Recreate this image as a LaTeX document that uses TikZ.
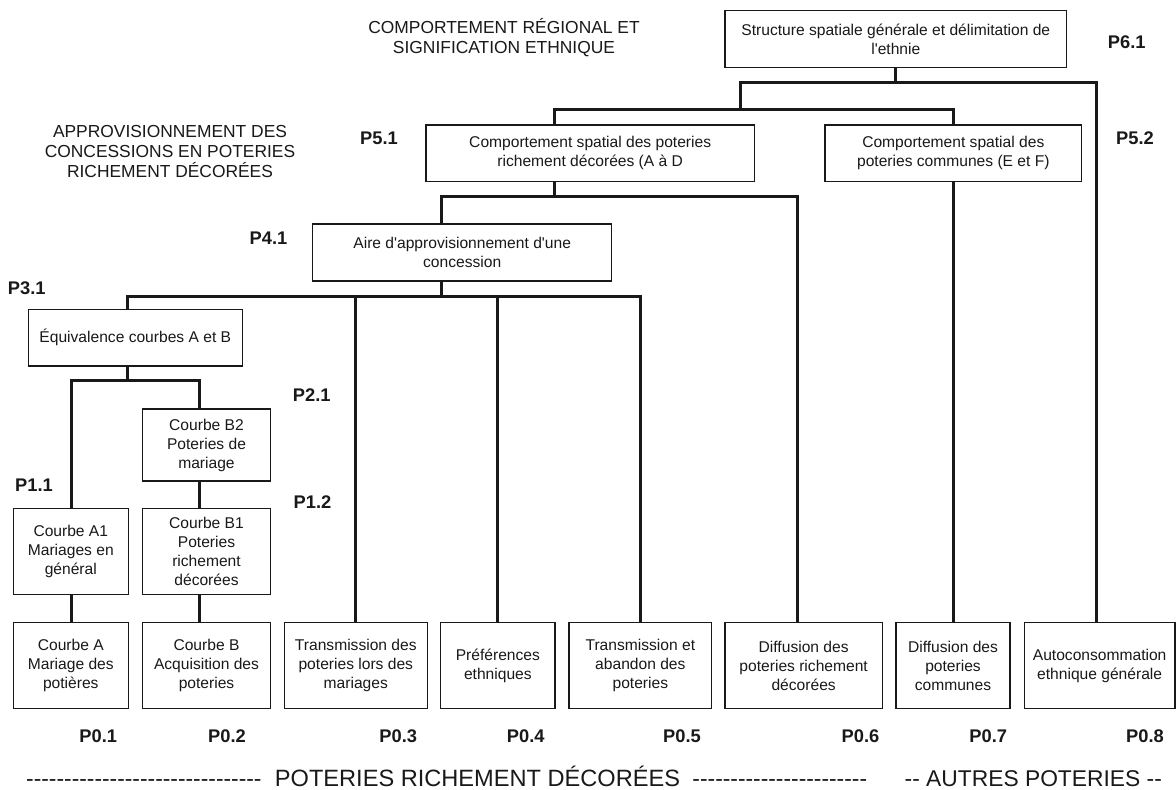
\documentclass[tikz,border=0pt]{standalone}
\usepackage{fontspec}
\newfontfamily\lsans{Liberation Sans}
\definecolor{ink}{gray}{0.1}
\newcount\hycnt
\newcommand\hyrep[1]{\hycnt=#1\relax\loop\mbox{-}\advance\hycnt by -1\relax\ifnum\hycnt>0\repeat}
\begin{document}
\begin{tikzpicture}[x=1pt,y=-1pt,
  box/.style={draw=ink, line width=1.2pt, fill=white, inner sep=0pt, align=center,
    text=ink, font=\lsans\fontsize{15.6}{19}\selectfont},
  conn/.style={draw=ink, line width=3pt, line join=miter},
  plab/.style={inner sep=0pt, text=ink, font=\lsans\fontsize{18.3}{20}\selectfont\bfseries},
  head/.style={inner sep=0pt, align=center, text=ink, font=\lsans\fontsize{17.4}{20}\selectfont},
  foot/.style={inner sep=0pt, text=ink, font=\lsans\fontsize{22.8}{26}\selectfont}]
\useasboundingbox (0,0) rectangle (1176,790);
\fill[white] (0,0) rectangle (1176,790);

% headings
\node[head] (h1) at (504,38) {COMPORTEMENT RÉGIONAL ET\\SIGNIFICATION ETHNIQUE};
\node[head] (h2) at (170,152) {APPROVISIONNEMENT DES\\CONCESSIONS EN POTERIES\\RICHEMENT DÉCORÉES};

% boxes
\node[box, minimum width=341.7pt, minimum height=57pt] (B61) at (895.8,39.2) {Structure spatiale générale et délimitation de\\l'ethnie};
\node[box, minimum width=328.3pt, minimum height=56.7pt] (B51) at (590.2,153.3) {Comportement spatial des poteries\\richement décorées (A à D};
\node[box, minimum width=256.7pt, minimum height=56.7pt] (B52) at (953.3,153.3) {Comportement spatial des\\poteries communes (E et F)};
\node[box, minimum width=299pt, minimum height=57pt] (B41) at (462.2,252.5) {Aire d'approvisionnement d'une\\concession};
\node[box, minimum width=214pt, minimum height=56.7pt] (B31) at (135.3,337.7) {Équivalence courbes A et B};
\node[box, minimum width=128.4pt, minimum height=72pt] (B21) at (206.5,445) {Courbe B2\\Poteries de\\mariage};
\node[box, minimum width=115pt, minimum height=86pt] (B11) at (70.8,551.3) {Courbe A1\\Mariages en\\général};
\node[box, minimum width=128.4pt, minimum height=86pt] (B12) at (206.5,551.3) {Courbe B1\\Poteries\\richement\\décorées};

\node[box, minimum width=115pt, minimum height=85.6pt] (B01) at (70.8,665.5) {Courbe A\\Mariage des\\potières};
\node[box, minimum width=128.4pt, minimum height=85.6pt] (B02) at (206.5,665.5) {Courbe B\\Acquisition des\\poteries};
\node[box, minimum width=143pt, minimum height=85.6pt] (B03) at (355.8,665.5) {Transmission des\\poteries lors des\\mariages};
\node[box, minimum width=114.3pt, minimum height=85.6pt] (B04) at (497.85,665.5) {Préférences\\ethniques};
\node[box, minimum width=142.7pt, minimum height=85.6pt] (B05) at (640.35,665.5) {Transmission et\\abandon des\\poteries};
\node[box, minimum width=157.3pt, minimum height=85.6pt] (B06) at (803.65,665.5) {Diffusion des\\poteries richement\\décorées};
\node[box, minimum width=114pt, minimum height=85.6pt] (B07) at (953,665.5) {Diffusion des\\poteries\\communes};
\node[box, minimum width=150.7pt, minimum height=85.6pt] (B08) at (1099.65,665.5) {Autoconsommation\\ethnique générale};

% junction coordinates
\coordinate (t6L) at (740,82);
\coordinate (t6R) at (1096,82);
\coordinate (t5L) at (554,109);
\coordinate (t5M) at (740,109);
\coordinate (t5R) at (953,109);
\coordinate (t4L) at (441.5,196);
\coordinate (t4R) at (797.3,196);
\coordinate (t3L) at (127.7,296);
\coordinate (t3R) at (640,296);
\coordinate (t2L) at (71,380);
\coordinate (t2R) at (199.3,380);

% connectors
\draw[conn] (B61.south) -- (B61.south |- t6L);
\draw[conn] (t5M) -- (t6L) -- (t6R) -- (B08.north -| t6R);
\draw[conn] (B51.north -| t5L) -- (t5L) -- (t5R) -- (B52.north -| t5R);
\draw[conn] (B51.south -| t5L) -- (t5L |- t4L);
\draw[conn] (B41.north -| t4L) -- (t4L) -- (t4R) -- (B06.north -| t4R);
\draw[conn] (B52.south -| t5R) -- (B07.north -| t5R);
\draw[conn] (B41.south -| t4L) -- (t4L |- t3L);
\draw[conn] (B31.north -| t3L) -- (t3L) -- (t3R) -- (B05.north -| t3R);
\draw[conn] (B03.north) -- (B03.north |- t3L);
\draw[conn] (B04.north) -- (B04.north |- t3L);
\draw[conn] (B31.south -| t3L) -- (t3L |- t2L);
\draw[conn] (B11.north -| t2L) -- (t2L) -- (t2R) -- (B21.north -| t2R);
\draw[conn] (B21.south -| t2R) -- (B12.north -| t2R);
\draw[conn] (B12.south -| t2R) -- (B02.north -| t2R);
\draw[conn] (B11.south -| t2L) -- (B01.north -| t2L);

% level labels
\node[plab] (P61) at (1126.7,41.7) {P6.1};
\node[plab] (P51) at (379,138) {P5.1};
\node[plab] (P52) at (1135,138) {P5.2};
\node[plab] (P41) at (268.5,238.3) {P4.1};
\node[plab] (P31) at (26.7,288.3) {P3.1};
\node[plab] (P21) at (311.7,395) {P2.1};
\node[plab] (P11) at (34,485) {P1.1};
\node[plab] (P12) at (312.5,501.7) {P1.2};
\node[plab] (P01) at (98.3,736) {P0.1};
\node[plab] (P02) at (227,736) {P0.2};
\node[plab] (P03) at (398.3,736) {P0.3};
\node[plab] (P04) at (525.8,736) {P0.4};
\node[plab] (P05) at (682,736) {P0.5};
\node[plab] (P06) at (860.5,736) {P0.6};
\node[plab] (P07) at (988.3,736) {P0.7};
\node[plab] (P08) at (1145,736) {P0.8};

% footer
\node[foot, anchor=base west] (fl) at (26,786) {\hyrep{31}};
\node[foot, anchor=base, font=\lsans\fontsize{23.6}{26}\selectfont] (ft) at (477.5,786) {POTERIES RICHEMENT DÉCORÉES};
\node[foot, anchor=base east] (fr) at (867.3,786) {\hyrep{23}};
\node[foot, anchor=base] (fa) at (1033.3,786) {-- AUTRES POTERIES --};
\end{tikzpicture}
\end{document}
